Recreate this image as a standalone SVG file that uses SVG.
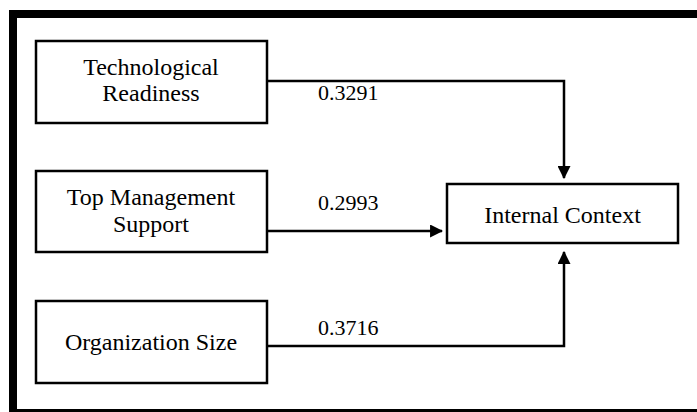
<svg xmlns="http://www.w3.org/2000/svg" width="697" height="412" viewBox="0 0 697 412">
  <style>
    .box { fill: #fff; stroke: #000; stroke-width: 2.5; }
    .edge { fill: none; stroke: #000; stroke-width: 2.5; }
    text { font-family: "Liberation Serif", "DejaVu Serif", serif; font-size: 24px; fill: #000; }
    .c { text-anchor: middle; }
    .w { font-size: 22px; }
  </style>
  <defs>
    <marker id="arrow" viewBox="0 0 12 12" refX="11" refY="6" markerWidth="13" markerHeight="13" markerUnits="userSpaceOnUse" orient="auto">
      <path d="M0,0 L12,6 L0,12 z" fill="#000"/>
    </marker>
  </defs>
  <rect width="697" height="412" fill="#fff"/>
  <!-- outer frame: top, left and bottom sides; the right side runs off the canvas -->
  <path d="M705,14 H13 V413 H705" fill="none" stroke="#000" stroke-width="8"/>

  <g id="connectors">
    <path class="edge" d="M267,81 H564 V178" marker-end="url(#arrow)"/>
    <path class="edge" d="M267,231 H442" marker-end="url(#arrow)"/>
    <path class="edge" d="M267,346 H564 V252" marker-end="url(#arrow)"/>
    <text class="w" x="318" y="100">0.3291</text>
    <text class="w" x="318" y="210">0.2993</text>
    <text class="w" x="318" y="335">0.3716</text>
  </g>

  <g id="technological-readiness">
    <rect class="box" x="36" y="41" width="231" height="82"/>
    <text class="c" x="151" y="75">Technological</text>
    <text class="c" x="151" y="101">Readiness</text>
  </g>

  <g id="top-management-support">
    <rect class="box" x="36" y="171" width="231" height="81"/>
    <text class="c" x="151" y="205">Top Management</text>
    <text class="c" x="151" y="232">Support</text>
  </g>

  <g id="organization-size">
    <rect class="box" x="36" y="301" width="231" height="82"/>
    <text class="c" x="151" y="350">Organization Size</text>
  </g>

  <g id="internal-context">
    <rect class="box" x="447" y="184" width="231" height="59"/>
    <text class="c" x="562.5" y="223">Internal Context</text>
  </g>
</svg>
